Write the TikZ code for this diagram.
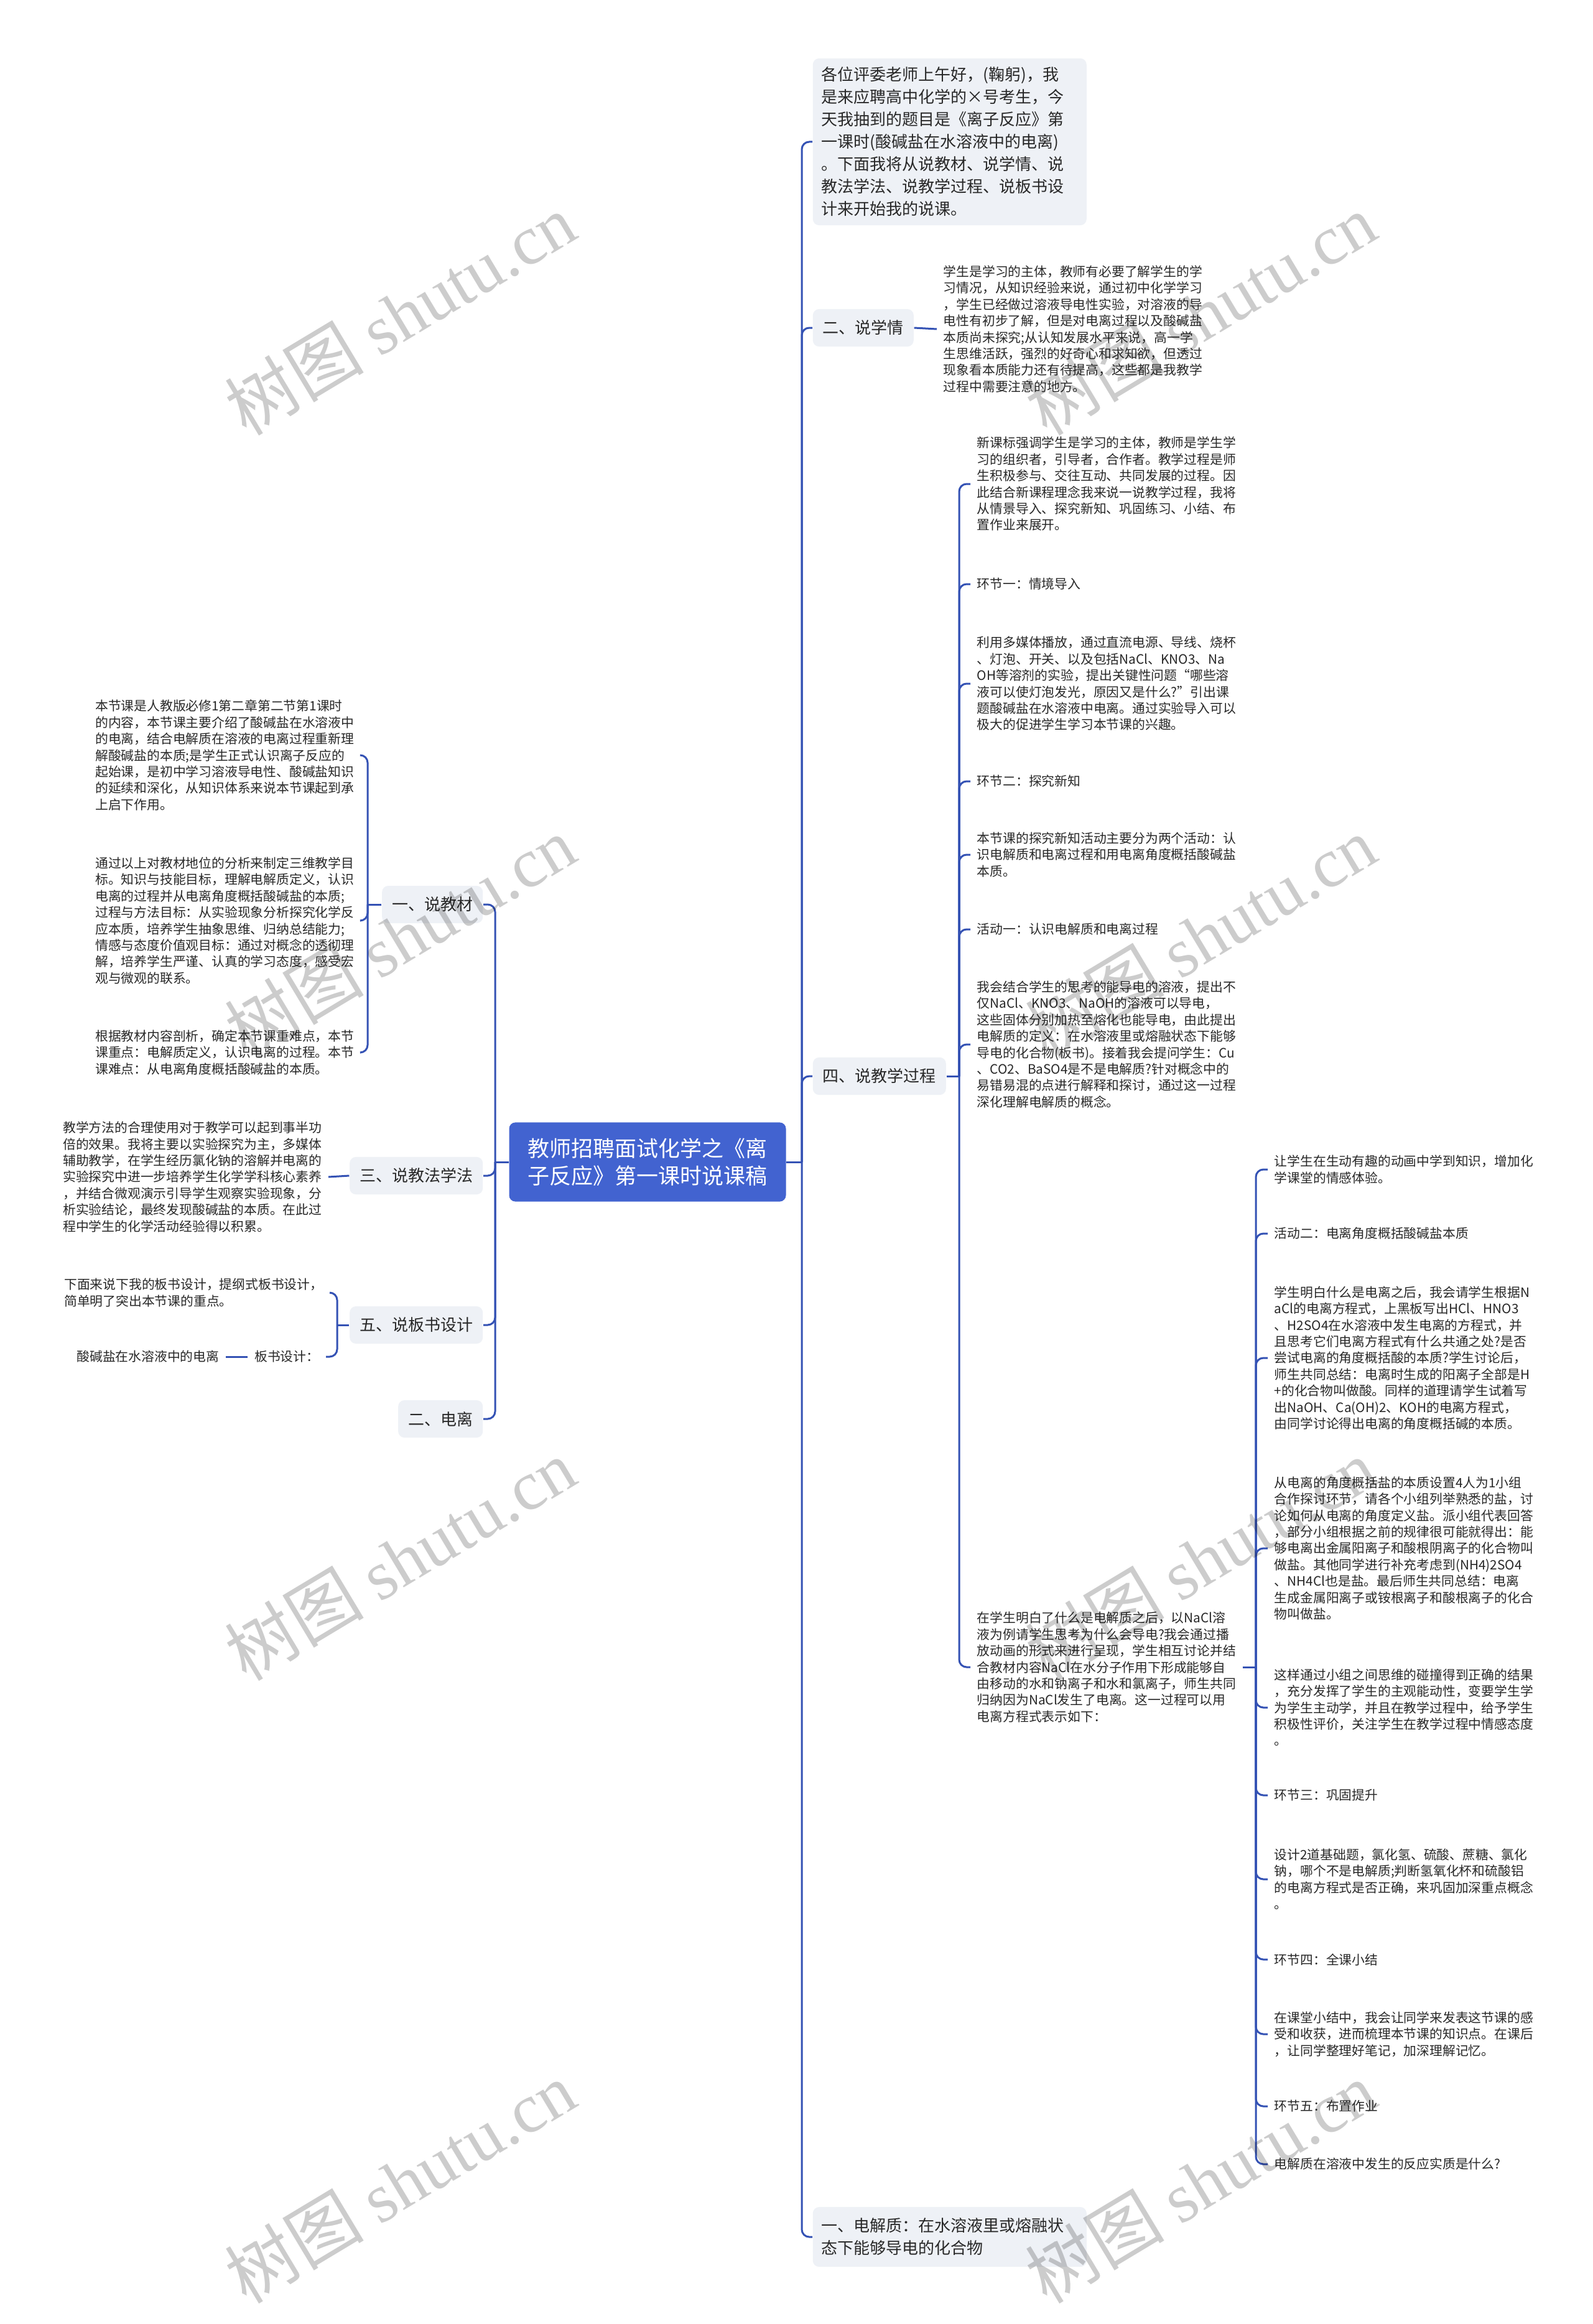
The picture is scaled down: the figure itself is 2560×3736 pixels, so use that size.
\documentclass[tikz,border=0pt]{standalone}
\usepackage{fontspec}
\setmainfont{Noto Sans CJK SC}
\newfontfamily\wmlatin{Liberation Serif}
\definecolor{linecol}{RGB}{52,82,180}
\definecolor{mainfill}{RGB}{66,99,208}
\definecolor{boxfill}{RGB}{238,241,246}
\definecolor{textcol}{RGB}{40,40,40}
\tikzset{
  conn/.style={draw=linecol, line width=0.75pt, rounded corners=3pt},
  mainbox/.style={fill=mainfill, rounded corners=2.5pt, text=white, align=left,
    font=\fontsize{8.75pt}{11pt}\selectfont, inner xsep=7.5pt, inner ysep=6.3pt},
  topic/.style={fill=boxfill, rounded corners=2.5pt, text=textcol, align=left,
    font=\fontsize{6.5pt}{9pt}\selectfont, inner xsep=4pt, inner ysep=4.5pt},
  leaf/.style={text=textcol, align=left, font=\fontsize{5.2pt}{6.6pt}\selectfont,
    inner xsep=2.5pt, inner ysep=0pt},
  wm/.style={text=black, text opacity=0.2, rotate=31, font=\fontsize{28pt}{30pt}\selectfont}
}
\begin{document}
\begin{tikzpicture}[x=0.25pt,y=-0.25pt]
\fill[white] (0,0) rectangle (2560,3736);
\useasboundingbox (0,0) rectangle (2560,3736);

% central node
\node[mainbox] (main) at (1041,1868) {教师招聘面试化学之《离\\子反应》第一课时说课稿};

% right level-1
\node[topic, anchor=west, text width=103pt, inner xsep=3.5pt, inner ysep=3.5pt] (r1) at (1306,228) {各位评委老师上午好，(鞠躬)，我\\是来应聘高中化学的×号考生，今\\天我抽到的题目是《离子反应》第\\一课时(酸碱盐在水溶液中的电离)\\。下面我将从说教材、说学情、说\\教法学法、说教学过程、说板书设\\计来开始我的说课。};
\node[topic, anchor=west] (r2) at (1306,527) {二、说学情};
\node[topic, anchor=west] (r3) at (1306,1730) {四、说教学过程};
\node[topic, anchor=west, text width=103pt, inner xsep=3.5pt] (r4) at (1306,3596) {一、电解质：在水溶液里或熔融状\\态下能够导电的化合物};

% left level-1
\node[topic, anchor=east] (l1) at (777,1454) {一、说教材};
\node[topic, anchor=east] (l2) at (777,1890) {三、说教法学法};
\node[topic, anchor=east] (l3) at (777,2130) {五、说板书设计};
\node[topic, anchor=east] (l4) at (777,2281) {二、电离};

% junction coordinates
\coordinate (rt) at (1289,1868);
\coordinate (lt) at (796,1868);
\coordinate (r3t) at (1542,1730);
\coordinate (c8t) at (2019,2680);
\coordinate (l1t) at (591,1454);
\coordinate (l3t) at (542,2130);

% 说学情 leaf
\node[leaf, anchor=west] (r2a) at (1506,529) {学生是学习的主体，教师有必要了解学生的学\\习情况，从知识经验来说，通过初中化学学习\\，学生已经做过溶液导电性实验，对溶液的导\\电性有初步了解，但是对电离过程以及酸碱盐\\本质尚未探究;从认知发展水平来说，高一学\\生思维活跃，强烈的好奇心和求知欲，但透过\\现象看本质能力还有待提高，这些都是我教学\\过程中需要注意的地方。};

% 说教学过程 leaves
\node[leaf, anchor=west] (c1) at (1560,778) {新课标强调学生是学习的主体，教师是学生学\\习的组织者，引导者，合作者。教学过程是师\\生积极参与、交往互动、共同发展的过程。因\\此结合新课程理念我来说一说教学过程，我将\\从情景导入、探究新知、巩固练习、小结、布\\置作业来展开。};
\node[leaf, anchor=west] (c2) at (1560,939) {环节一：情境导入};
\node[leaf, anchor=west] (c3) at (1560,1099) {利用多媒体播放，通过直流电源、导线、烧杯\\、灯泡、开关、以及包括NaCl、KNO3、Na\\OH等溶剂的实验，提出关键性问题“哪些溶\\液可以使灯泡发光，原因又是什么?”引出课\\题酸碱盐在水溶液中电离。通过实验导入可以\\极大的促进学生学习本节课的兴趣。};
\node[leaf, anchor=west] (c4) at (1560,1256) {环节二：探究新知};
\node[leaf, anchor=west] (c5) at (1560,1374) {本节课的探究新知活动主要分为两个活动：认\\识电解质和电离过程和用电离角度概括酸碱盐\\本质。};
\node[leaf, anchor=west] (c6) at (1560,1494) {活动一：认识电解质和电离过程};
\node[leaf, anchor=west] (c7) at (1560,1679) {我会结合学生的思考的能导电的溶液，提出不\\仅NaCl、KNO3、NaOH的溶液可以导电，\\这些固体分别加热至熔化也能导电，由此提出\\电解质的定义：在水溶液里或熔融状态下能够\\导电的化合物(板书)。接着我会提问学生：Cu\\、CO2、BaSO4是不是电解质?针对概念中的\\易错易混的点进行解释和探讨，通过这一过程\\深化理解电解质的概念。};
\node[leaf, anchor=west] (c8) at (1560,2680) {在学生明白了什么是电解质之后，以NaCl溶\\液为例请学生思考为什么会导电?我会通过播\\放动画的形式来进行呈现，学生相互讨论并结\\合教材内容NaCl在水分子作用下形成能够自\\由移动的水和钠离子和水和氯离子，师生共同\\归纳因为NaCl发生了电离。这一过程可以用\\电离方程式表示如下：};

% c8 children
\node[leaf, anchor=west] (d1) at (2038,1880) {让学生在生动有趣的动画中学到知识，增加化\\学课堂的情感体验。};
\node[leaf, anchor=west] (d2) at (2038,1983) {活动二：电离角度概括酸碱盐本质};
\node[leaf, anchor=west] (d3) at (2038,2183) {学生明白什么是电离之后，我会请学生根据N\\aCl的电离方程式，上黑板写出HCl、HNO3\\、H2SO4在水溶液中发生电离的方程式，并\\且思考它们电离方程式有什么共通之处?是否\\尝试电离的角度概括酸的本质?学生讨论后，\\师生共同总结：电离时生成的阳离子全部是H\\+的化合物叫做酸。同样的道理请学生试着写\\出NaOH、Ca(OH)2、KOH的电离方程式，\\由同学讨论得出电离的角度概括碱的本质。};
\node[leaf, anchor=west] (d4) at (2038,2489) {从电离的角度概括盐的本质设置4人为1小组\\合作探讨环节，请各个小组列举熟悉的盐，讨\\论如何从电离的角度定义盐。派小组代表回答\\，部分小组根据之前的规律很可能就得出：能\\够电离出金属阳离子和酸根阴离子的化合物叫\\做盐。其他同学进行补充考虑到(NH4)2SO4\\、NH4Cl也是盐。最后师生共同总结：电离\\生成金属阳离子或铵根离子和酸根离子的化合\\物叫做盐。};
\node[leaf, anchor=west] (d5) at (2038,2745) {这样通过小组之间思维的碰撞得到正确的结果\\，充分发挥了学生的主观能动性，变要学生学\\为学生主动学，并且在教学过程中，给予学生\\积极性评价，关注学生在教学过程中情感态度\\。};
\node[leaf, anchor=west] (d6) at (2038,2886) {环节三：巩固提升};
\node[leaf, anchor=west] (d7) at (2038,3021) {设计2道基础题，氯化氢、硫酸、蔗糖、氯化\\钠，哪个不是电解质;判断氢氧化杯和硫酸铝\\的电离方程式是否正确，来巩固加深重点概念\\。};
\node[leaf, anchor=west] (d8) at (2038,3150) {环节四：全课小结};
\node[leaf, anchor=west] (d9) at (2038,3270) {在课堂小结中，我会让同学来发表这节课的感\\受和收获，进而梳理本节课的知识点。在课后\\，让同学整理好笔记，加深理解记忆。};
\node[leaf, anchor=west] (d10) at (2038,3386) {环节五：布置作业};
\node[leaf, anchor=west] (d11) at (2038,3479) {电解质在溶液中发生的反应实质是什么?};

% left leaves
\node[leaf, anchor=east] (a1) at (580,1214) {本节课是人教版必修1第二章第二节第1课时\\的内容，本节课主要介绍了酸碱盐在水溶液中\\的电离，结合电解质在溶液的电离过程重新理\\解酸碱盐的本质;是学生正式认识离子反应的\\起始课，是初中学习溶液导电性、酸碱盐知识\\的延续和深化，从知识体系来说本节课起到承\\上启下作用。};
\node[leaf, anchor=east] (a2) at (580,1480) {通过以上对教材地位的分析来制定三维教学目\\标。知识与技能目标，理解电解质定义，认识\\电离的过程并从电离角度概括酸碱盐的本质;\\过程与方法目标：从实验现象分析探究化学反\\应本质，培养学生抽象思维、归纳总结能力;\\情感与态度价值观目标：通过对概念的透彻理\\解，培养学生严谨、认真的学习态度，感受宏\\观与微观的联系。};
\node[leaf, anchor=east] (a3) at (580,1692) {根据教材内容剖析，确定本节课重难点，本节\\课重点：电解质定义，认识电离的过程。本节\\课难点：从电离角度概括酸碱盐的本质。};
\node[leaf, anchor=east] (l2a) at (528,1892) {教学方法的合理使用对于教学可以起到事半功\\倍的效果。我将主要以实验探究为主，多媒体\\辅助教学，在学生经历氯化钠的溶解并电离的\\实验探究中进一步培养学生化学学科核心素养\\，并结合微观演示引导学生观察实验现象，分\\析实验结论，最终发现酸碱盐的本质。在此过\\程中学生的化学活动经验得以积累。};
\node[leaf, anchor=east] (b1) at (530,2078) {下面来说下我的板书设计，提纲式板书设计，\\简单明了突出本节课的重点。};
\node[leaf, anchor=east] (b2) at (524,2181) {板书设计：};
\node[leaf, anchor=east] (b3) at (363,2181) {酸碱盐在水溶液中的电离};

% connectors
\draw[conn] (main.east) -- (rt);
\draw[conn] (main.west) -- (lt);
\foreach \n in {r1,r2,r3,r4} \draw[conn] (rt) |- (\n.west);
\foreach \n in {l1,l2,l3,l4} \draw[conn] (lt) |- (\n.east);
\draw[conn] (r2.east) -- (r2a.west);
\draw[conn] (r3.east) -- (r3t);
\foreach \n in {c1,c2,c3,c4,c5,c6,c7,c8} \draw[conn] (r3t) |- (\n.west);
\draw[conn] (c8.east) -- (c8t);
\foreach \n in {d1,d2,d3,d4,d5,d6,d7,d8,d9,d10,d11} \draw[conn] (c8t) |- (\n.west);
\draw[conn] (l1.west) -- (l1t);
\foreach \n in {a1,a2,a3} \draw[conn] (l1t) |- (\n.east);
\draw[conn] (l2a.east) -- (l2.west);
\draw[conn] (l3.west) -- (l3t);
\foreach \n in {b1,b2} \draw[conn] (l3t) |- (\n.east);
\draw[conn] (b2.west) -- (b3.east);

% watermarks
\node[wm] (wm1) at (643,505) {树图 {\wmlatin shutu.cn}};
\node[wm] (wm2) at (1930,505) {树图 {\wmlatin shutu.cn}};
\node[wm] (wm3) at (643,1506) {树图 {\wmlatin shutu.cn}};
\node[wm] (wm4) at (1930,1506) {树图 {\wmlatin shutu.cn}};
\node[wm] (wm5) at (643,2507) {树图 {\wmlatin shutu.cn}};
\node[wm] (wm6) at (1930,2507) {树图 {\wmlatin shutu.cn}};
\node[wm] (wm7) at (643,3508) {树图 {\wmlatin shutu.cn}};
\node[wm] (wm8) at (1930,3508) {树图 {\wmlatin shutu.cn}};
\end{tikzpicture}
\end{document}
